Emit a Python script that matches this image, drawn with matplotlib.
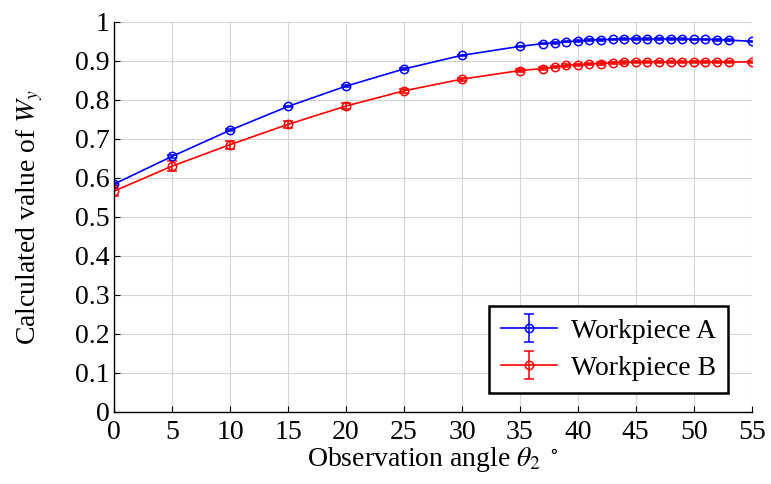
import numpy as np
import matplotlib.pyplot as plt

plt.rcParams['font.family'] = ['Liberation Serif', 'DejaVu Serif']
plt.rcParams['mathtext.fontset'] = 'stix'

# observation angles (deg)
angle = [0, 5, 10, 15, 20, 25, 30, 35, 37, 38, 39, 40, 41, 42, 43, 44, 45,
         46, 47, 48, 49, 50, 51, 52, 53, 55]

# workpiece A
wy_a = [0.584, 0.655, 0.722, 0.783, 0.835, 0.879, 0.914, 0.937, 0.944, 0.946,
        0.949, 0.951, 0.953, 0.954, 0.955, 0.956, 0.956, 0.956, 0.956, 0.956,
        0.956, 0.955, 0.955, 0.954, 0.953, 0.950]
err_a = [0.003, 0.003, 0.003, 0.002, 0.002, 0.002, 0.002, 0.002, 0.002, 0.002,
         0.002, 0.002, 0.002, 0.002, 0.002, 0.002, 0.002, 0.002, 0.002, 0.002,
         0.002, 0.002, 0.002, 0.002, 0.002, 0.002]

# workpiece B
wy_b = [0.566, 0.630, 0.685, 0.737, 0.784, 0.823, 0.853, 0.875, 0.880, 0.884,
        0.888, 0.890, 0.892, 0.893, 0.895, 0.896, 0.897, 0.897, 0.897, 0.897,
        0.897, 0.897, 0.897, 0.897, 0.897, 0.897]
err_b = [0.012, 0.012, 0.010, 0.009, 0.007, 0.005, 0.004, 0.003, 0.003, 0.003,
         0.003, 0.003, 0.003, 0.003, 0.003, 0.003, 0.003, 0.003, 0.003, 0.003,
         0.003, 0.003, 0.003, 0.003, 0.003, 0.003]

fig = plt.figure(figsize=(7.71, 4.84), dpi=100)
ax = fig.add_axes([0.148, 0.149, 0.827, 0.806])

style = dict(marker='o', markerfacecolor='none', markersize=6, linewidth=1.2,
             markeredgewidth=1.1, capsize=3.5, elinewidth=1.1, capthick=1.1)
ax.errorbar(angle, wy_a, yerr=err_a, color='#0000ff', label='Workpiece A', **style)
ax.errorbar(angle, wy_b, yerr=err_b, color='#ff0000', label='Workpiece B', **style)

ax.set_xlim(0, 55)
ax.set_ylim(0, 1)
ax.set_xticks(np.arange(0, 56, 5))
ax.set_yticks(np.arange(0, 1.01, 0.1))
ax.set_yticklabels(['0', '0.1', '0.2', '0.3', '0.4', '0.5', '0.6', '0.7', '0.8', '0.9', '1'])

ax.grid(True, color='#d4d4d4', linewidth=0.8)
ax.set_axisbelow(True)
for s in ['top', 'right']:
    ax.spines[s].set_visible(False)
for s in ['left', 'bottom']:
    ax.spines[s].set_linewidth(1.0)
ax.tick_params(direction='in', length=4, labelsize=20)
ax.tick_params(axis='y', pad=3)
ax.tick_params(axis='x', pad=6)

ax.set_xlabel(r'Observation angle $\theta_2$ $^\circ$', fontsize=20, labelpad=0)
ax.set_ylabel(r'Calculated value of $W_y$', fontsize=20, labelpad=22)

leg = ax.legend(loc='lower right', fontsize=20, fancybox=False, framealpha=1,
                edgecolor='black', borderpad=0.45, handlelength=2.0,
                handletextpad=0.5, labelspacing=0.4, borderaxespad=0,
                bbox_to_anchor=(0.963, 0.048))
leg.get_frame().set_linewidth(1.8)

fig.savefig('out.png', dpi=100)
